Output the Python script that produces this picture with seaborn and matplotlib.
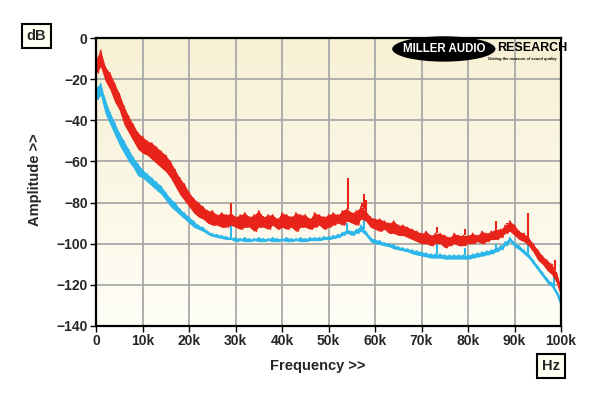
import numpy as np
import seaborn as sns
from matplotlib import pyplot as plt
from matplotlib.patches import Ellipse

# frequency grid in kHz (values at 1 kHz steps)
freq_khz = list(range(0, 101))

# red trace: upper / lower edge of the noise band (dB)
red_hi = [-10, -6, -14, -17, -22, -27, -33, -38, -42, -46,
          -48, -50, -51, -53, -55, -57, -60, -64, -68, -71,
          -75, -78, -80, -82, -84, -84, -86, -85, -86, -85,
          -87, -86, -85, -87, -86, -84, -87, -86, -86, -88,
          -85, -86, -87, -85, -86, -86, -88, -85, -86, -87,
          -86, -85, -86, -84, -83, -85, -84, -82, -84, -87,
          -88, -88, -89, -90, -89, -91, -91, -92, -93, -94,
          -95, -94, -96, -95, -95, -96, -97, -95, -96, -96,
          -96, -95, -96, -94, -95, -94, -93, -93, -91, -89,
          -91, -94, -95, -97, -100, -103, -106, -108, -110, -114,
          -121]
red_lo = [-17, -14, -21, -25, -31, -35, -42, -46, -50, -54,
          -56, -57, -59, -61, -63, -65, -68, -72, -76, -79,
          -82, -85, -87, -88, -90, -91, -91, -92, -92, -91,
          -92, -93, -92, -92, -94, -92, -92, -93, -91, -93,
          -92, -93, -92, -94, -92, -92, -93, -92, -91, -93,
          -92, -91, -90, -91, -89, -90, -91, -88, -89, -92,
          -93, -94, -93, -95, -95, -96, -96, -97, -98, -99,
          -100, -100, -101, -100, -100, -102, -101, -100, -101, -101,
          -100, -100, -99, -100, -99, -98, -98, -97, -95, -94,
          -96, -98, -99, -101, -104, -108, -110, -113, -115, -119,
          -126]

# cyan trace: upper / lower edge (dB)
cyan_hi = [-24, -22, -30, -36, -41, -46, -50, -54, -58, -61,
           -64, -66, -68, -70, -72, -75, -78, -80, -83, -85,
           -87, -89, -91, -92, -94, -95, -95.5, -96, -96.5, -97,
           -97, -97.5, -97, -97.5, -97.5, -97, -97.5, -97.5, -97, -97.5,
           -97.5, -97, -97.5, -97.5, -97, -97.5, -97, -97, -97, -96.5,
           -96.5, -96, -95.5, -94.5, -93, -94, -93, -91, -94, -97,
           -98, -98.5, -99.5, -100, -100.5, -101.5, -102, -102.5, -103, -103.5,
           -104, -104.5, -105, -105, -105, -105.5, -105.5, -105.5, -105.5, -105.5,
           -105.5, -105, -104.5, -104, -103.5, -103, -102, -101, -99, -97,
           -99.5, -101, -103, -105, -108, -111, -114, -117, -119, -123,
           -128]
cyan_lo = [-30, -28, -37, -42, -47, -52, -56, -60, -63, -67,
           -68, -70, -72, -74, -76, -79, -82, -84, -86, -88,
           -90, -92, -93, -94, -95.5, -96.5, -97, -97.5, -98, -98,
           -99, -98.5, -99, -99, -98.5, -99, -99, -98.5, -99, -99,
           -98.5, -99, -99, -98.5, -99, -99, -98.5, -98.5, -98.5, -98,
           -98, -97.5, -97, -96, -95, -96, -95, -94, -96, -99,
           -100, -100.5, -101, -101.5, -102.5, -103, -103.5, -104, -105, -105.5,
           -106, -106.5, -107, -107, -107, -107.5, -107.5, -107.5, -107.5, -107.5,
           -107.5, -107, -106.5, -106, -105.5, -105, -104, -103, -101, -99,
           -101.5, -103, -105, -107, -110, -113, -116, -119, -121, -125,
           -131]

# narrow spurious tones
red_spike_khz = [1.0, 29.0, 53.6, 54.1, 57.2, 57.6, 58.0, 73.3, 79.4, 86.0, 88.4, 93.0, 98.1, 98.7]
red_spike_db = [-6, -80, -84, -68, -80, -76, -79, -92, -93, -89, -90, -85, -110, -108]
cyan_spike_khz = [29.0, 54.0, 57.6, 73.3, 79.4, 86.0, 92.8, 98.6]
cyan_spike_db = [-91, -90, -86, -99, -102, -100, -100, -114]

x_ticks = [0, 10, 20, 30, 40, 50, 60, 70, 80, 90, 100]
x_labels = ['0', '10k', '20k', '30k', '40k', '50k', '60k', '70k', '80k', '90k', '100k']
y_ticks = [0, -20, -40, -60, -80, -100, -120, -140]

RED = '#e8231a'
CYAN = '#2cb6ea'


def zigzag(f, hi, lo):
    # alternate upper and lower edge so the trace reads as a noise band
    xs, ys = [], []
    for fi, h, l in zip(f, hi, lo):
        xs += [fi, fi + 0.5]
        ys += [h, l]
    return xs[:-1], ys[:-1]


sns.set_style('white')
plt.rcParams['font.family'] = ['Liberation Sans', 'DejaVu Sans']

fig = plt.figure(figsize=(6, 3.96), dpi=100)
ax = fig.add_axes([0.16, 0.177, 0.775, 0.727])

# yellowish gradient background
grad = np.linspace(0, 1, 256).reshape(-1, 1)
top = np.array([247, 240, 212]) / 255
bot = np.array([255, 254, 247]) / 255
img = top + (bot - top) * grad[:, :, None]
ax.imshow(img, extent=[0, 100, -140, 0], aspect='auto', zorder=0, origin='upper')

ax.grid(True, color='#a9a9a9', lw=1.3, zorder=1)
ax.set_axisbelow(True)

# cyan band
ax.fill_between(freq_khz, cyan_lo, cyan_hi, color=CYAN, lw=0, zorder=3)
cx, cy = zigzag(freq_khz, cyan_hi, cyan_lo)
sns.lineplot(x=cx, y=cy, sort=False, estimator=None, color=CYAN, lw=1.0, ax=ax, zorder=3)
base = np.interp(cyan_spike_khz, freq_khz, cyan_hi)
ax.vlines(cyan_spike_khz, base, cyan_spike_db, color=CYAN, lw=1.5, zorder=3)

# red band
ax.fill_between(freq_khz, red_lo, red_hi, color=RED, lw=0, zorder=4)
rx, ry = zigzag(freq_khz, red_hi, red_lo)
sns.lineplot(x=rx, y=ry, sort=False, estimator=None, color=RED, lw=1.1, ax=ax, zorder=4)
base = np.interp(red_spike_khz, freq_khz, red_hi)
ax.vlines(red_spike_khz, base, red_spike_db, color=RED, lw=1.5, zorder=4)

ax.set_xlim(0, 100)
ax.set_ylim(-140, 0)
ax.set_xticks(x_ticks)
ax.set_xticklabels(x_labels)
ax.set_yticks(y_ticks)
ax.tick_params(axis='both', direction='out', length=4, width=1, pad=2,
               labelsize=10, color='black', bottom=True, left=True)
plt.setp(ax.get_xticklabels() + ax.get_yticklabels(), fontweight='bold')
for s in ax.spines.values():
    s.set_linewidth(1.6)
    s.set_color('black')
    s.set_zorder(5)

ax.set_xlabel('')
ax.set_ylabel('')
fig.text(0.53, 0.076, 'Frequency >>', ha='center', va='center', fontsize=10.5, fontweight='bold')
fig.text(0.058, 0.545, 'Amplitude >>', ha='center', va='center', rotation=90,
         fontsize=10.5, fontweight='bold')

box = dict(boxstyle='square,pad=0.35', fc='#fffff2', ec='black', lw=1.5)
fig.text(0.061, 0.909, 'dB', ha='center', va='center', fontsize=10.5, fontweight='bold', bbox=box)
fig.text(0.918, 0.076, 'Hz', ha='center', va='center', fontsize=10.5, fontweight='bold', bbox=box)

# logo
ax.add_patch(Ellipse((0.748, 0.962), 0.222, 0.088, transform=ax.transAxes,
                     fc='black', ec='none', zorder=6, clip_on=False))
ax.text(0.748, 0.962, 'MILLER AUDIO', transform=ax.transAxes, ha='center', va='center',
        color='white', fontsize=8.3, fontweight='bold', zorder=7)
ax.text(0.862, 0.966, 'RESEARCH', transform=ax.transAxes, ha='left', va='center',
        color='black', fontsize=9, fontweight='bold', zorder=7)
ax.text(0.99, 0.927, 'Getting the measure of sound quality', transform=ax.transAxes,
        ha='right', va='center', color='black', fontsize=2.8, style='italic',
        fontweight='bold', zorder=7)

fig.savefig('out.png', dpi=100, facecolor='white')
